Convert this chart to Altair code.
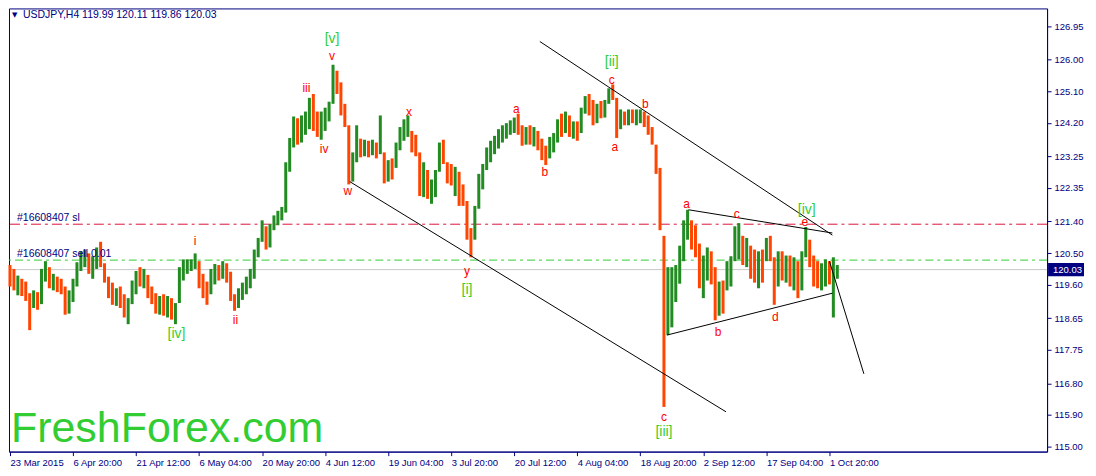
import altair as alt
import pandas as pd

# USDJPY H4 -- one sample for every 4 bars, prices
bar_step = 4
highs = [
    120.16, 120.05, 119.86, 119.77, 119.69, 119.36, 119.44, 119.39, 120.05, 120.27,
    120.10, 119.91, 119.83, 119.77, 119.55, 119.44, 119.77, 120.24, 120.55, 120.60,
    120.49, 120.41, 120.66, 120.82, 120.21, 119.83, 119.66, 119.50, 119.55, 119.33,
    119.22, 119.72, 119.99, 120.10, 120.05, 119.88, 119.55, 119.36, 119.28, 119.33,
    119.28, 119.22, 119.08, 120.10, 120.32, 120.32, 120.32, 120.49, 120.27, 119.91,
    119.69, 120.05, 120.19, 120.16, 120.27, 120.21, 119.97, 119.33, 119.50, 119.66,
    119.83, 120.05, 120.60, 120.93, 121.43, 121.26, 121.32, 121.57, 121.70, 121.81,
    123.08, 123.77, 124.38, 124.33, 124.41, 124.52, 124.91, 125.02, 124.52, 124.52,
    124.63, 124.80, 125.85, 125.68, 125.35, 124.74, 124.13, 123.36, 124.13, 123.75,
    123.72, 123.69, 123.72, 123.64, 124.41, 123.36, 123.14, 123.19, 123.64, 124.08,
    124.30, 124.41, 123.97, 123.86, 123.36, 123.08, 122.86, 122.59, 122.86, 123.64,
    123.72, 123.08, 123.03, 122.95, 122.81, 122.45, 121.98, 121.21, 121.84, 122.75,
    123.03, 123.50, 123.69, 123.83, 124.02, 124.13, 124.19, 124.27, 124.35, 124.46,
    124.13, 124.08, 124.13, 124.08, 123.97, 123.75, 123.55, 123.80, 123.91, 124.30,
    124.46, 124.52, 124.41, 124.24, 124.24, 124.63, 124.96, 125.02, 124.85, 124.74,
    124.82, 124.85, 125.18, 125.29, 124.91, 124.58, 124.52, 124.58, 124.58, 124.58,
    124.58, 124.52, 124.41, 124.08, 123.58, 122.92, 120.99, 120.10, 120.10, 120.16,
    120.71, 121.43, 121.73, 121.43, 121.29, 120.77, 120.43, 120.66, 120.55, 120.10,
    119.69, 119.72, 120.27, 120.41, 121.26, 121.35, 120.99, 120.93, 120.71, 120.60,
    120.55, 120.60, 120.93, 120.99, 120.38, 120.55, 120.55, 120.43, 120.43, 120.38,
    120.27, 120.55, 121.24, 120.88, 120.43, 120.27, 120.21, 120.32, 120.27, 120.38,
    120.16,
]
lows = [
    119.55, 119.44, 119.30, 119.28, 119.14, 118.31, 118.94, 118.89, 119.05, 119.69,
    119.50, 119.44, 119.39, 119.33, 118.75, 118.78, 119.11, 119.55, 119.99, 120.10,
    119.91, 119.77, 120.05, 120.10, 119.66, 119.22, 119.03, 119.00, 118.94, 118.67,
    118.48, 119.05, 119.33, 119.55, 119.50, 119.22, 119.05, 118.78, 118.75, 118.72,
    118.67, 118.61, 118.48, 119.08, 119.72, 119.91, 119.99, 120.05, 119.50, 119.22,
    119.03, 119.33, 119.61, 119.72, 119.77, 119.66, 119.14, 118.86, 118.94, 119.17,
    119.33, 119.50, 119.77, 120.38, 120.82, 120.60, 120.66, 121.15, 121.29, 121.43,
    121.65, 122.81, 123.50, 123.58, 123.64, 123.86, 124.02, 123.97, 123.80, 123.72,
    123.97, 124.24, 124.74, 125.02, 124.41, 124.08, 122.45, 122.53, 123.08, 123.22,
    123.25, 123.22, 123.28, 123.19, 123.31, 122.48, 122.53, 122.59, 122.92, 123.42,
    123.69, 123.80, 123.36, 123.25, 122.12, 122.09, 122.04, 121.90, 122.09, 122.81,
    123.03, 122.48, 122.42, 122.12, 121.84, 121.84, 120.88, 120.38, 120.88, 121.76,
    122.31, 122.86, 123.08, 123.31, 123.47, 123.64, 123.75, 123.86, 123.91, 123.86,
    123.55, 123.58, 123.58, 123.53, 123.42, 123.14, 123.00, 123.19, 123.36, 123.64,
    123.80, 123.91, 123.80, 123.75, 123.69, 123.91, 124.46, 124.41, 124.13, 124.19,
    124.33, 124.35, 124.74, 124.85, 123.77, 124.02, 124.13, 124.13, 124.19, 124.13,
    124.19, 124.08, 123.86, 123.58, 122.75, 121.15, 116.13, 118.17, 118.39, 119.11,
    119.63, 120.27, 120.88, 120.60, 120.38, 119.50, 119.22, 119.72, 119.61, 118.59,
    118.72, 118.78, 119.44, 119.55, 120.27, 120.32, 120.16, 120.10, 119.77, 119.66,
    119.50, 119.66, 120.27, 120.27, 119.03, 119.55, 119.72, 119.66, 119.55, 119.44,
    119.22, 119.44, 120.38, 120.10, 119.55, 119.50, 119.44, 119.55, 119.61, 118.67,
    119.77,
]
closes = [
    119.83, 119.61, 119.72, 119.44, 119.33, 119.08, 119.22, 119.05, 119.88, 119.99,
    119.63, 119.77, 119.55, 119.44, 118.94, 119.22, 119.61, 120.05, 120.27, 120.43,
    120.10, 120.27, 120.38, 120.21, 119.77, 119.44, 119.22, 119.33, 119.08, 118.89,
    119.05, 119.50, 119.83, 119.72, 119.88, 119.33, 119.22, 118.94, 119.05, 118.89,
    119.11, 118.78, 118.94, 119.77, 120.16, 120.16, 120.21, 120.27, 119.66, 119.50,
    119.33, 119.77, 119.99, 119.88, 120.10, 119.83, 119.28, 119.08, 119.33, 119.44,
    119.66, 119.88, 120.43, 120.82, 121.26, 120.77, 121.15, 121.43, 121.59, 121.65,
    122.86, 123.64, 124.13, 123.91, 124.19, 124.35, 124.74, 124.24, 123.97, 124.33,
    124.46, 124.63, 125.57, 125.24, 124.63, 124.24, 122.81, 123.14, 123.64, 123.47,
    123.58, 123.42, 123.53, 123.36, 124.19, 122.75, 122.92, 122.81, 123.36, 123.91,
    124.08, 124.19, 123.64, 123.47, 122.39, 122.67, 122.26, 122.37, 122.75, 123.36,
    123.14, 122.86, 122.64, 122.75, 122.20, 122.12, 121.10, 120.88, 121.65, 122.53,
    122.86, 123.31, 123.47, 123.64, 123.86, 123.91, 124.08, 124.13, 124.24, 123.97,
    123.75, 123.97, 123.75, 123.86, 123.53, 123.36, 123.31, 123.64, 123.75, 124.13,
    124.02, 124.24, 123.97, 124.02, 123.91, 124.52, 124.74, 124.63, 124.52, 124.63,
    124.46, 124.69, 125.07, 124.96, 124.19, 124.41, 124.24, 124.41, 124.35, 124.41,
    124.46, 124.30, 124.02, 123.69, 122.86, 121.37, 119.22, 119.50, 119.63, 119.77,
    120.43, 121.15, 121.26, 121.15, 120.66, 119.83, 120.05, 120.32, 119.91, 118.94,
    119.33, 119.22, 120.05, 120.16, 120.88, 120.99, 120.55, 120.66, 120.27, 120.05,
    120.38, 120.27, 120.71, 120.60, 119.50, 120.27, 119.99, 120.16, 119.88, 120.05,
    119.61, 120.27, 120.77, 120.38, 119.99, 119.72, 119.88, 120.05, 119.77, 119.94,
    120.03,
]

time_labels = [
    "23 Mar 2015", "6 Apr 20:00", "21 Apr 12:00", "6 May 04:00", "20 May 20:00",
    "4 Jun 12:00", "19 Jun 04:00", "3 Jul 20:00", "20 Jul 12:00", "4 Aug 04:00",
    "18 Aug 20:00", "2 Sep 12:00", "17 Sep 04:00", "1 Oct 20:00",
]
label_every = 64  # bars between time labels

price_ticks = [126.95, 126.00, 125.10, 124.20, 123.25, 122.35, 121.40,
               120.50, 119.60, 118.65, 117.75, 116.80, 115.90, 115.00]

sl_level = 121.32
sell_level = 120.30
bid_level = 120.03
header = "USDJPY,H4  119.99 120.11 119.86 120.03"

# trend lines (bar, price) -> (bar, price)
line_x1 = [345, 538, 689, 667, 832]
line_y1 = [122.53, 126.51, 121.73, 118.17, 120.27]
line_x2 = [727, 835, 835, 835, 867]
line_y2 = [115.99, 121.01, 121.07, 119.36, 117.07]

# wave count labels
major_text = ["[v]", "[iv]", "[i]", "[ii]", "[iii]", "[iv]"]
major_bar = [327, 169, 464, 611, 664, 809]
major_price = [126.59, 118.20, 119.44, 125.93, 115.41, 121.73]

minor_text = ["v", "iii", "iv", "i", "ii", "w", "x", "y", "a", "b",
              "c", "a", "b", "c", "a", "c", "b", "d", "e"]
minor_bar = [327, 301, 319, 188, 229, 343, 405, 464, 514, 543,
             611, 614, 645, 664, 687, 738, 719, 777, 807]
minor_price = [126.09, 125.18, 123.47, 120.85, 118.59, 122.26, 124.52, 119.99, 124.60, 122.81,
               125.43, 123.50, 124.74, 115.83, 121.90, 121.62, 118.25, 118.67, 121.37]

W, H = 1040, 444
NAVY = "#000080"
FONT = "Liberation Sans"

bars = pd.DataFrame({
    "bar": [i * bar_step for i in range(len(highs))],
    "high": highs,
    "low": lows,
    "close": closes,
})
prev = [(highs[0] + lows[0]) / 2] + closes[:-1]
bars["dir"] = ["up" if c >= p else "down" for c, p in zip(closes, prev)]

levels = pd.DataFrame({"price": [sl_level, sell_level, bid_level],
                       "kind": ["sl", "sell", "bid"]})
lines = pd.DataFrame({"x1": line_x1, "y1": line_y1, "x2": line_x2, "y2": line_y2})
major = pd.DataFrame({"bar": major_bar, "price": major_price, "text": major_text})
minor = pd.DataFrame({"bar": minor_bar, "price": minor_price, "text": minor_text})
orders = pd.DataFrame({"price": [sl_level, sell_level],
                       "text": ["#16608407 sl", "#16608407 sell 0.01"]})
bid = pd.DataFrame({"price": [bid_level], "top": [bid_level + 0.19],
                    "bottom": [bid_level - 0.19], "text": [f"{bid_level:.2f}"]})

label_list = "[" + ",".join(f"'{t}'" for t in time_labels) + "]"
x_axis = alt.Axis(
    values=[i * label_every for i in range(len(time_labels))],
    labelExpr=f"{label_list}[round(datum.value / {label_every})]",
    grid=False, tickSize=4, labelAlign="left", labelPadding=2, labelFlush=False,
    labelOverlap=False, labelColor=NAVY, tickColor=NAVY, domainColor=NAVY,
    labelFont=FONT, labelFontSize=9.5, title=None,
)
y_axis = alt.Axis(
    values=price_ticks, format=".2f", orient="right", grid=False, tickSize=4,
    labelPadding=3, labelOverlap=False, labelColor=NAVY, tickColor=NAVY,
    domainColor=NAVY, labelFont=FONT, labelFontSize=9.5, title=None,
)
x_scale = alt.Scale(domain=[-1, 1053], nice=False, zero=False)
y_scale = alt.Scale(domain=[114.86, 127.45], nice=False, zero=False)


def X(field):
    return alt.X(f"{field}:Q", scale=x_scale, axis=x_axis)


def Y(field):
    return alt.Y(f"{field}:Q", scale=y_scale, axis=y_axis)


base_levels = alt.Chart(levels)
sl_rule = base_levels.transform_filter("datum.kind == 'sl'").mark_rule(
    color="#DC143C", strokeWidth=1, strokeDash=[10, 4, 3, 4]).encode(y=Y("price"))
sell_rule = base_levels.transform_filter("datum.kind == 'sell'").mark_rule(
    color="#32CD32", strokeWidth=1, strokeDash=[8, 4, 3, 4]).encode(y=Y("price"))
bid_rule = base_levels.transform_filter("datum.kind == 'bid'").mark_rule(
    color="#C8C8C8", strokeWidth=1).encode(y=Y("price"))

candles = alt.Chart(bars).mark_rule(strokeWidth=3).encode(
    x=X("bar"),
    y=Y("low"),
    y2="high",
    color=alt.Color("dir:N", scale=alt.Scale(domain=["up", "down"],
                                             range=["#228B22", "#FF4500"]), legend=None),
)

trend = alt.Chart(lines).mark_rule(color="black", strokeWidth=1).encode(
    x=X("x1"), x2="x2", y=Y("y1"), y2="y2")

order_text = alt.Chart(orders).mark_text(
    align="left", baseline="middle", dy=-6, font=FONT, fontSize=10.5, color=NAVY
).encode(x=alt.value(8), y=Y("price"), text="text:N")

minor_text_layer = alt.Chart(minor).mark_text(
    font=FONT, fontSize=12, color="#FF0000", baseline="middle"
).encode(x=X("bar"), y=Y("price"), text="text:N")

major_text_layer = alt.Chart(major).mark_text(
    font=FONT, fontSize=14, color="#32CD32", baseline="middle"
).encode(x=X("bar"), y=Y("price"), text="text:N")

head = alt.Chart(pd.DataFrame({"text": [header]})).mark_text(
    align="left", baseline="middle", font=FONT, fontSize=10.5, color=NAVY
).encode(x=alt.value(14), y=alt.value(7), text="text:N")

arrow = alt.Chart(pd.DataFrame({"text": ["\u25bc"]})).mark_text(
    align="left", baseline="middle", font="DejaVu Sans", fontSize=7, color=NAVY
).encode(x=alt.value(3), y=alt.value(7), text="text:N")

watermark = alt.Chart(pd.DataFrame({"text": ["FreshForex.com"]})).mark_text(
    align="left", baseline="alphabetic", font=FONT, fontSize=43, color="#32CD32"
).encode(x=alt.value(2), y=alt.value(H - 10), text="text:N")

bid_box = alt.Chart(bid).mark_rect(color=NAVY).encode(
    x=alt.value(W + 1), x2=alt.value(W + 37), y=Y("top"), y2="bottom")
bid_text = alt.Chart(bid).mark_text(
    align="left", baseline="middle", font=FONT, fontSize=9.5, color="white"
).encode(x=alt.value(W + 6), y=Y("price"), text="text:N")

chart = alt.layer(
    bid_rule, sell_rule, sl_rule, candles, trend, order_text,
    minor_text_layer, major_text_layer, head, arrow, watermark, bid_box, bid_text,
).properties(
    width=W, height=H, padding={"left": 0, "top": 0, "right": 4, "bottom": 0},
    background="white",
).configure_view(stroke=NAVY, strokeWidth=1)

chart.save("out.html", embed_options={"renderer": "svg", "actions": False})
